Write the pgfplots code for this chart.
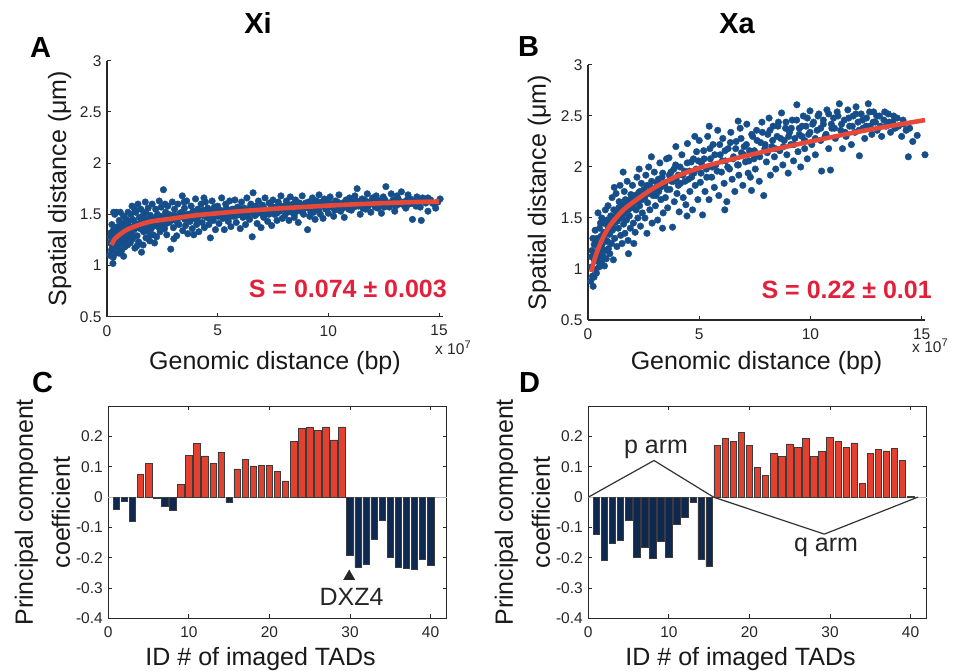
\documentclass[border=0pt]{standalone}
\usepackage{fontspec}
\setmainfont{Liberation Sans}
\usepackage{pgfplots}
\pgfplotsset{compat=1.18}

\definecolor{dotblue}{RGB}{22,78,138}
\definecolor{fitred}{RGB}{232,72,56}
\definecolor{txtred}{RGB}{226,32,58}
\definecolor{barred}{RGB}{228,64,48}
\definecolor{barnavy}{RGB}{14,40,80}
\definecolor{edge}{RGB}{60,60,60}
\definecolor{axgray}{RGB}{40,40,40}

\newcommand\lbl{\fontsize{25}{30}\selectfont}
\newcommand\tck{\fontsize{15.5}{18}\selectfont}
\newcommand\ttl{\fontsize{29}{32}\selectfont\bfseries}

\pgfplotsset{
  panel/.style={
    scale only axis, clip=false, clip mode=individual, clip marker paths=true,
    tick align=inside, major tick length=4pt,
    axis line style={axgray, line width=1.3pt},
    tick style={axgray, line width=1pt},
    /pgf/number format/assume math mode=true,
    tick label style={font=\tck, text=black!85},
    xticklabel style={yshift=-5pt},
    yticklabel style={xshift=-2pt},
    label style={font=\lbl, inner sep=0pt, text=black!90},
  },
  scat/.style={
    panel,
    axis x line*=bottom, axis y line*=left,
    xmin=0, xmax=15.18, ymin=0.5, ymax=3,
    xtick={0,5,10,15}, ytick={0.5,1,1.5,2,2.5,3},
    xlabel={Genomic distance (bp)},
    ylabel={Spatial distance (μm)},
  },
  bars/.style={
    panel,
    xmin=0, xmax=42, ymin=-0.4, ymax=0.3,
    width=338.4pt, height=212pt,
    xtick={0,10,20,30,40},
    ytick={-0.4,-0.3,-0.2,-0.1,0,0.1,0.2},
    yticklabels={-0.4,-0.3,-0.2,-0.1,0,0.1,0.2},
    xlabel={ID \# of imaged TADs},
    ylabel={Principal component\\coefficient},
    xlabel style={at={(axis description cs:0.45,-0.222)}, anchor=base},
    ylabel style={at={(axis description cs:-0.112,0.5)}, anchor=south,
      align=center, font=\fontsize{25}{37}\selectfont},
  },
  dots/.style={dotblue, only marks, mark=*, mark size=3.3pt},
  fit/.style={fitred, line width=4.6pt, smooth, no marks},
  posbar/.style={ybar, bar width=0.8, bar shift=0pt, fill=barred, draw=edge, line width=0.6pt},
  negbar/.style={ybar, bar width=0.8, bar shift=0pt, fill=barnavy, draw=edge, line width=0.6pt},
}

\begin{document}
\begin{tikzpicture}
\useasboundingbox (0,0) rectangle (961pt,670pt);

% ---------------- A : Xi ----------------
\begin{axis}[scat, at={(107pt,353.3pt)}, anchor=south west,
  width=336pt, height=256pt,
  xlabel style={at={(axis description cs:0.5,-0.208)}, anchor=base},
  ylabel style={at={(axis description cs:-0.122,0.5)}, anchor=base}]
\addplot[dots] coordinates {
(0.12,1.10)(0.15,1.22)(0.18,1.32)(0.20,1.15)(0.22,1.40)(0.25,1.26)(0.27,1.02)(0.28,1.08)(0.30,1.35)(0.32,1.19)
(0.35,1.50)(0.38,1.29)(0.40,1.12)(0.42,1.52)(0.45,1.24)(0.48,1.38)(0.50,1.17)(0.52,1.31)(0.55,1.44)(0.58,1.21)
(0.60,1.52)(0.62,1.34)(0.65,1.14)(0.68,1.27)(0.70,1.41)(0.72,1.23)(0.75,1.48)(0.78,1.30)(0.80,1.18)(0.82,1.37)
(0.85,1.26)(0.88,1.45)(0.90,1.33)(0.92,1.20)(0.95,1.52)(0.98,1.29)(0.15,1.28)(0.25,1.18)(0.35,1.23)(0.45,1.33)
(0.55,1.12)(0.65,1.38)(0.75,1.09)(0.85,1.35)(0.95,1.42)(0.30,1.52)(0.60,1.25)(0.90,1.24)
(0.22,1.22)(0.33,1.28)(0.44,1.26)(0.57,1.30)(0.68,1.33)(0.79,1.31)(0.93,1.36)(1.07,1.34)(1.18,1.38)(1.29,1.41)
(1.42,1.37)(1.52,1.42)(1.64,1.39)(1.77,1.43)(1.88,1.40)(2.02,1.44)(2.14,1.42)(2.26,1.46)(2.38,1.44)(2.47,1.47)
(1.02,1.38)(1.05,1.22)(1.08,1.50)(1.10,1.31)(1.13,1.58)(1.16,1.26)(1.20,1.44)(1.23,1.35)(1.26,1.17)(1.30,1.52)
(1.33,1.40)(1.36,1.29)(1.40,1.60)(1.43,1.23)(1.46,1.47)(1.50,1.36)(1.53,1.55)(1.56,1.13)(1.60,1.42)(1.63,1.20)
(1.66,1.50)(1.70,1.38)(1.73,1.62)(1.76,1.27)(1.80,1.45)(1.83,1.34)(1.86,1.56)(1.90,1.41)(1.93,1.24)(1.96,1.49)
(2.00,1.36)(2.04,1.60)(2.08,1.30)(2.12,1.46)(2.16,1.39)(2.20,1.55)(2.24,1.28)(2.28,1.50)(2.32,1.42)(2.36,1.63)
(2.40,1.33)(2.44,1.48)(2.48,1.40)(1.15,1.45)(1.35,1.19)(1.55,1.47)(1.75,1.52)(1.95,1.30)(2.15,1.22)(2.35,1.37)
(1.25,1.55)(1.65,1.33)(2.05,1.44)(2.45,1.57)
(2.52,1.44)(2.55,1.74)(2.60,1.36)(2.65,1.52)(2.70,1.30)(2.75,1.58)(2.80,1.42)(2.88,1.16)(2.90,1.49)(2.95,1.62)
(3.00,1.37)(3.05,1.55)(3.10,1.45)(3.15,1.29)(3.20,1.60)(3.25,1.40)(3.30,1.51)(3.40,1.68)(3.42,1.34)(3.45,1.47)
(3.50,1.56)(3.55,1.39)(3.60,1.63)(3.65,1.31)(3.70,1.50)(3.75,1.43)(3.80,1.58)(3.85,1.36)(3.90,1.53)(3.95,1.46)
(4.00,1.65)(4.05,1.40)(4.10,1.55)(4.15,1.33)(4.20,1.49)(4.25,1.60)(4.30,1.42)(4.35,1.54)(4.40,1.37)(4.45,1.62)
(4.50,1.47)(4.55,1.56)(4.60,1.40)(4.67,1.27)(4.70,1.51)(4.75,1.63)(4.80,1.44)(4.85,1.57)(4.90,1.35)(4.95,1.52)
(2.62,1.60)(3.02,1.26)(3.48,1.62)(3.92,1.30)(4.38,1.66)(4.88,1.48)
(2.58,1.47)(2.68,1.41)(2.78,1.50)(2.92,1.44)(3.06,1.49)(3.18,1.42)(3.28,1.47)(3.38,1.52)(3.52,1.45)(3.62,1.50)
(3.72,1.46)(3.86,1.52)(3.98,1.48)(4.08,1.44)(4.18,1.53)(4.32,1.49)(4.48,1.52)(4.62,1.46)(4.78,1.54)(4.92,1.49)
(5.00,1.58)(5.06,1.41)(5.12,1.54)(5.18,1.66)(5.24,1.46)(5.30,1.35)(5.36,1.60)(5.42,1.50)(5.48,1.43)(5.54,1.63)
(5.60,1.38)(5.66,1.55)(5.72,1.48)(5.78,1.64)(5.84,1.42)(5.90,1.57)(5.96,1.51)(6.02,1.36)(6.08,1.62)(6.14,1.47)
(6.20,1.56)(6.26,1.40)(6.32,1.66)(6.38,1.52)(6.44,1.45)(6.50,1.60)(6.56,1.28)(6.60,1.71)(6.66,1.49)(6.72,1.58)
(6.78,1.41)(6.84,1.63)(6.90,1.53)(6.96,1.37)(7.02,1.59)(7.08,1.47)(7.14,1.66)(7.20,1.51)(7.26,1.43)(7.32,1.61)
(7.38,1.55)(7.44,1.39)(7.50,1.64)(7.56,1.50)(7.62,1.57)(7.68,1.44)(7.74,1.62)(7.80,1.53)(7.86,1.68)(7.92,1.46)
(7.98,1.58)
(5.03,1.48)(5.15,1.53)(5.27,1.50)(5.39,1.56)(5.51,1.47)(5.63,1.52)(5.75,1.55)(5.87,1.49)(5.99,1.56)(6.11,1.51)
(6.23,1.54)(6.35,1.48)(6.47,1.57)(6.59,1.52)(6.71,1.49)(6.83,1.55)(6.95,1.51)(7.07,1.57)(7.19,1.53)(7.31,1.50)
(7.43,1.58)(7.55,1.54)(7.67,1.51)(7.79,1.58)(7.91,1.55)
(8.04,1.49)(8.10,1.63)(8.16,1.55)(8.22,1.44)(8.28,1.67)(8.34,1.52)(8.40,1.60)(8.46,1.47)(8.52,1.64)(8.58,1.56)
(8.64,1.42)(8.70,1.61)(8.76,1.53)(8.82,1.68)(8.88,1.50)(8.94,1.58)(9.06,1.35)(9.10,1.62)(9.16,1.48)(9.22,1.56)
(9.28,1.66)(9.34,1.52)(9.40,1.45)(9.46,1.63)(9.52,1.57)(9.58,1.69)(9.64,1.50)(9.70,1.60)(9.76,1.46)(9.82,1.65)
(9.88,1.55)(9.94,1.62)(10.00,1.51)(10.08,1.67)(10.16,1.58)(10.24,1.48)(10.32,1.63)(10.40,1.55)(10.48,1.69)(10.56,1.53)
(10.64,1.61)(10.72,1.47)(10.80,1.64)(10.88,1.57)(10.96,1.66)
(8.01,1.57)(8.13,1.52)(8.25,1.59)(8.37,1.55)(8.49,1.51)(8.61,1.60)(8.73,1.57)(8.85,1.54)(8.97,1.61)(9.09,1.56)
(9.21,1.52)(9.33,1.60)(9.45,1.57)(9.57,1.54)(9.69,1.62)(9.81,1.58)(9.93,1.55)(10.05,1.61)(10.17,1.57)(10.29,1.54)
(10.41,1.62)(10.53,1.59)(10.65,1.56)(10.77,1.60)(10.92,1.55)
(11.04,1.54)(11.12,1.62)(11.20,1.68)(11.30,1.75)(11.36,1.58)(11.44,1.50)(11.52,1.65)(11.60,1.60)(11.68,1.55)(11.76,1.70)
(11.84,1.62)(11.92,1.52)(12.00,1.66)(12.08,1.59)(12.16,1.68)(12.24,1.56)(12.32,1.63)(12.40,1.51)(12.48,1.67)(12.60,1.77)
(12.68,1.61)(12.76,1.57)(12.84,1.70)(12.92,1.64)(13.00,1.53)(13.10,1.68)(13.20,1.60)(13.30,1.72)(13.40,1.62)(13.50,1.56)
(13.60,1.69)(13.70,1.65)(13.80,1.45)(13.90,1.60)(14.00,1.67)(14.20,1.44)(14.30,1.63)(14.50,1.53)(14.50,1.66)(14.70,1.61)
(14.85,1.56)(15.05,1.65)
(11.02,1.61)(11.16,1.57)(11.28,1.63)(11.40,1.59)(11.56,1.56)(11.64,1.64)(11.80,1.58)(11.96,1.62)(12.12,1.57)(12.20,1.64)
(12.36,1.60)(12.52,1.57)(12.56,1.64)(12.72,1.60)(12.88,1.62)(13.04,1.58)(13.16,1.65)(13.26,1.61)(13.44,1.58)(13.56,1.64)
(13.66,1.60)(13.84,1.63)(13.96,1.58)(14.10,1.62)(14.26,1.66)(14.40,1.61)(14.62,1.64)(14.78,1.60)(14.95,1.62)(14.15,1.57)
};
\addplot[fit] coordinates {
(0.2,1.20)(0.35,1.26)(0.5,1.29)(0.75,1.33)(1,1.36)(1.5,1.40)(2,1.43)(3,1.46)(4,1.49)(5,1.51)
(6,1.53)(8,1.56)(10,1.585)(12,1.605)(14,1.62)(15,1.625)
};
\node[anchor=base east, inner sep=0pt, font=\lbl\bfseries, text=txtred] at (axis cs:15.36,0.683) {S = 0.074 ± 0.003};
\end{axis}

% ---------------- B : Xa ----------------
\begin{axis}[scat, at={(588pt,350pt)}, anchor=south west,
  width=337pt, height=255pt, xmax=15.15,
  xlabel style={at={(axis description cs:0.5,-0.196)}, anchor=base},
  ylabel style={at={(axis description cs:-0.125,0.5)}, anchor=base}]
\addplot[dots] coordinates {
(0.12,0.88)(0.15,1.02)(0.18,1.18)(0.20,0.93)(0.22,1.30)(0.23,0.83)(0.26,1.10)(0.28,1.24)(0.30,0.99)(0.32,1.38)
(0.35,1.15)(0.38,0.96)(0.40,1.30)(0.42,1.08)(0.45,1.55)(0.48,1.21)(0.50,1.02)(0.52,1.40)(0.55,1.16)(0.58,1.32)
(0.60,1.07)(0.62,1.50)(0.65,1.25)(0.68,1.12)(0.70,1.45)(0.72,1.30)(0.75,1.18)(0.78,1.58)(0.80,1.36)(0.82,1.10)
(0.85,1.48)(0.88,1.27)(0.90,1.62)(0.92,1.20)(0.95,1.40)(0.98,1.15)(0.16,1.12)(0.34,1.28)(0.56,1.45)(0.74,1.03)
(0.86,1.35)(0.27,0.92)
(0.25,1.00)(0.36,1.08)(0.46,1.18)(0.54,1.24)(0.63,1.20)(0.71,1.36)(0.81,1.28)(0.89,1.42)(0.97,1.34)(1.06,1.46)
(1.15,1.40)(1.24,1.52)(1.32,1.47)(1.42,1.55)(1.51,1.62)(1.61,1.54)(1.71,1.64)(1.81,1.58)(1.91,1.68)(2.01,1.62)
(2.11,1.72)(2.22,1.66)(2.33,1.76)(2.43,1.68)(0.42,1.12)
(1.02,1.52)(1.05,1.25)(1.08,1.70)(1.10,1.38)(1.14,1.09)(1.16,1.58)(1.20,1.30)(1.23,1.46)(1.26,1.74)(1.30,1.22)
(1.33,1.55)(1.36,1.40)(1.40,1.66)(1.44,1.82)(1.47,1.33)(1.50,1.50)(1.53,1.25)(1.56,1.62)(1.60,1.44)(1.63,1.76)
(1.66,1.35)(1.70,1.57)(1.73,1.48)(1.76,1.86)(1.80,1.28)(1.83,1.65)(1.86,1.52)(1.90,1.40)(1.93,1.73)(1.96,1.60)
(2.00,1.82)(2.04,1.45)(2.08,1.66)(2.12,1.36)(2.16,1.58)(2.20,1.90)(2.24,1.50)(2.28,1.75)(2.32,1.62)(2.36,1.42)
(2.40,1.84)(2.44,1.55)(2.48,1.70)(1.82,1.15)(1.18,1.80)(1.58,1.95)(2.06,1.25)(2.30,1.98)(1.38,1.60)(1.68,1.68)
(2.52,1.78)(2.56,1.50)(2.60,1.92)(2.65,1.35)(2.68,1.65)(2.73,2.00)(2.78,1.58)(2.83,1.80)(2.88,1.45)(2.93,1.72)
(2.98,1.95)(3.03,1.62)(3.08,1.85)(3.13,1.48)(3.18,1.76)(3.23,2.04)(3.28,1.68)(3.33,1.90)(3.38,1.55)(3.43,1.82)
(3.48,1.70)(3.53,2.08)(3.58,1.60)(3.64,2.09)(3.68,1.78)(3.73,1.95)(3.80,1.41)(3.84,1.86)(3.88,1.66)(3.94,2.02)
(4.00,1.74)(4.05,1.92)(4.10,1.56)(4.16,1.84)(4.22,2.12)(4.28,1.70)(4.34,1.96)(4.40,1.63)(4.47,2.23)(4.52,1.88)
(4.58,1.76)(4.64,2.05)(4.70,1.58)(4.76,1.94)(4.82,1.82)(4.88,2.15)(4.94,1.68)(2.85,2.10)(3.35,1.40)(3.95,2.20)
(4.45,1.52)(4.80,2.30)
(2.55,1.70)(2.66,1.82)(2.76,1.74)(2.86,1.86)(2.96,1.78)(3.06,1.72)(3.16,1.88)(3.26,1.80)(3.36,1.94)(3.46,1.84)
(3.56,1.78)(3.66,1.92)(3.76,1.86)(3.86,1.98)(3.96,1.88)(4.06,1.82)(4.14,2.00)(4.26,1.92)(4.36,1.86)(4.46,2.04)
(4.56,1.96)(4.66,1.90)(4.74,2.08)(4.86,1.98)(4.96,2.06)
(5.00,2.26)(5.05,1.85)(5.10,2.04)(5.15,1.53)(5.20,2.16)(5.26,1.76)(5.32,1.98)(5.38,2.30)(5.44,1.68)(5.50,2.08)
(5.56,1.90)(5.62,2.22)(5.68,1.80)(5.74,2.02)(5.83,2.36)(5.88,1.72)(5.94,2.12)(6.00,1.95)(6.06,2.28)(6.12,1.84)
(6.18,2.06)(6.24,1.66)(6.30,2.18)(6.36,1.98)(6.42,2.34)(6.48,1.88)(6.54,2.10)(6.60,1.76)(6.66,2.25)(6.72,2.02)
(6.78,1.92)(6.84,2.38)(6.90,2.14)(6.96,1.82)(7.02,2.20)(7.08,2.05)(7.14,2.42)(7.20,1.94)(7.26,2.16)(7.35,1.77)
(7.40,2.30)(7.46,2.08)(7.52,1.98)(7.58,2.36)(7.64,2.12)(7.70,1.86)(7.76,2.24)(7.82,2.44)(7.90,1.72)(7.95,2.18)
(5.45,2.40)(6.15,1.58)(6.75,2.45)(7.30,1.90)
(5.08,1.94)(5.22,2.08)(5.34,1.90)(5.48,2.18)(5.58,2.00)(5.70,2.12)(5.80,1.96)(5.92,2.22)(6.04,2.06)(6.16,2.16)
(6.28,2.00)(6.40,2.24)(6.52,2.08)(6.64,2.18)(6.76,2.02)(6.88,2.28)(7.00,2.12)(7.12,2.22)(7.24,2.06)(7.36,2.32)
(7.48,2.16)(7.60,2.26)(7.72,2.10)(7.84,2.34)(7.96,2.22)
(8.02,2.05)(8.08,2.32)(8.14,2.48)(8.20,1.92)(8.26,2.20)(8.32,2.40)(8.38,2.10)(8.44,1.98)(8.50,2.30)(8.56,2.44)
(8.62,2.16)(8.70,2.53)(8.76,2.02)(8.82,2.26)(8.88,2.38)(8.94,2.12)(9.00,1.94)(9.06,2.34)(9.12,2.22)(9.18,2.46)
(9.24,2.06)(9.30,2.28)(9.39,2.61)(9.44,2.15)(9.50,2.38)(9.56,2.00)(9.62,2.30)(9.68,2.50)(9.74,2.18)(9.80,2.40)
(9.86,2.08)(9.92,2.32)(9.98,2.55)(10.06,2.22)(10.14,2.44)(10.22,2.12)(10.30,2.36)(10.38,2.52)(10.46,2.26)(10.50,1.96)
(10.58,2.42)(10.66,2.30)(10.74,2.56)(10.82,2.18)(10.90,1.97)(10.96,2.38)
(8.06,2.14)(8.18,2.36)(8.30,2.26)(8.42,2.18)(8.54,2.40)(8.66,2.28)(8.78,2.20)(8.90,2.44)(9.02,2.30)(9.14,2.38)
(9.26,2.22)(9.38,2.46)(9.50,2.32)(9.62,2.40)(9.74,2.26)(9.86,2.48)(9.98,2.34)(10.10,2.42)(10.22,2.28)(10.34,2.50)
(10.46,2.38)(10.58,2.46)(10.70,2.32)(10.82,2.52)(10.94,2.42)
(11.04,2.48)(11.12,2.28)(11.20,2.54)(11.30,2.62)(11.36,2.36)(11.44,2.18)(11.52,2.46)(11.60,2.30)(11.68,2.56)(11.76,2.40)
(11.84,2.22)(11.92,2.50)(12.00,2.34)(12.05,2.59)(12.14,2.44)(12.20,2.11)(12.28,2.52)(12.36,2.38)(12.44,2.28)(12.52,2.48)
(12.60,2.62)(12.68,2.40)(12.76,2.32)(12.84,2.54)(12.92,2.44)(13.00,2.36)(13.10,2.50)(13.20,2.30)(13.30,2.46)(13.40,2.40)
(13.50,2.52)(13.60,2.34)(13.70,2.44)(13.80,2.38)(13.90,2.48)(14.10,2.30)(14.20,2.42)(14.40,2.10)(14.60,2.25)(14.80,2.31)
(14.30,2.36)(15.15,2.12)
(11.08,2.38)(11.24,2.50)(11.40,2.42)(11.56,2.34)(11.72,2.48)(11.88,2.40)(12.04,2.52)(12.18,2.36)(12.34,2.46)(12.50,2.40)
(12.66,2.54)(12.82,2.44)(12.98,2.50)(13.14,2.40)(13.34,2.54)(13.54,2.44)(13.74,2.50)(13.96,2.40)(14.16,2.46)(14.46,2.38)
};
\addplot[fit] coordinates {
(0.15,0.97)(0.3,1.10)(0.5,1.22)(0.75,1.34)(1,1.43)(1.5,1.56)(2,1.65)(3,1.80)(4,1.91)(5,1.99)
(6,2.05)(7.5,2.13)(10,2.25)(12.5,2.36)(15.15,2.46)
};
\node[anchor=base east, inner sep=0pt, font=\lbl\bfseries, text=txtred] at (axis cs:15.46,0.706) {S = 0.22 ± 0.01};
\end{axis}

% ---------------- C ----------------
\begin{axis}[bars, at={(108.3pt,51.7pt)}, anchor=south west]
\addplot[gray!55, line width=1pt] coordinates {(0,0)(42,0)};
\addplot[posbar] coordinates {
(4,0.076)(5,0.111)(9,0.041)(10,0.137)(11,0.177)(12,0.136)(13,0.111)(14,0.149)
(16,0.093)(17,0.124)(18,0.103)(19,0.105)(20,0.106)(21,0.085)(22,0.054)(23,0.183)
(24,0.227)(25,0.230)(26,0.221)(27,0.232)(28,0.189)(29,0.232)
};
\addplot[negbar] coordinates {
(1,-0.039)(2,-0.014)(3,-0.080)(6,-0.004)(7,-0.030)(8,-0.042)(15,-0.016)
(30,-0.192)(31,-0.232)(32,-0.221)(33,-0.139)(34,-0.077)(35,-0.200)(36,-0.232)
(37,-0.235)(38,-0.239)(39,-0.205)(40,-0.225)
};
\addplot[only marks, mark=triangle*, mark size=6.5pt, black!85] coordinates {(29.9,-0.262)};
\node[anchor=base, inner sep=0pt, font=\lbl, text=black!85] at (axis cs:30.2,-0.359) {DXZ4};
\end{axis}

% ---------------- D ----------------
\begin{axis}[bars, at={(588.3pt,51.7pt)}, anchor=south west]
\addplot[gray!55, line width=1pt] coordinates {(0,0)(42,0)};
\addplot[posbar] coordinates {
(16,0.170)(17,0.193)(18,0.185)(19,0.213)(20,0.170)(21,0.097)(22,0.073)(23,0.145)
(24,0.135)(25,0.176)(26,0.164)(27,0.195)(28,0.135)(29,0.152)(30,0.196)(31,0.183)
(32,0.163)(33,0.179)(34,0.045)(35,0.145)(36,0.157)(37,0.153)(38,0.160)(39,0.121)(40,0.003)
};
\addplot[negbar] coordinates {
(1,-0.123)(2,-0.210)(3,-0.151)(4,-0.143)(5,-0.075)(6,-0.200)(7,-0.167)(8,-0.203)
(9,-0.147)(10,-0.197)(11,-0.088)(12,-0.068)(13,-0.016)(14,-0.205)(15,-0.227)
};
\addplot[black!80, line width=1.2pt] coordinates {(0,0)(8.15,0.121)(15.55,0)};
\addplot[black!80, line width=1.2pt] coordinates {(15.55,0)(29.3,-0.122)(40.9,0)};
\node[anchor=base, inner sep=0pt, font=\lbl, text=black!85] at (axis cs:8.4,0.144) {p arm};
\node[anchor=base, inner sep=0pt, font=\lbl, text=black!85] at (axis cs:29.5,-0.178) {q arm};
\end{axis}

% ---------------- titles, panel letters, exponents ----------------
\node[anchor=base, inner sep=0pt, font=\ttl] at (258pt,636pt) {Xi};
\node[anchor=base, inner sep=0pt, font=\ttl] at (737pt,636pt) {Xa};
\node[anchor=base west, inner sep=0pt, font=\ttl] at (30pt,612pt) {A};
\node[anchor=base west, inner sep=0pt, font=\ttl] at (518pt,613pt) {B};
\node[anchor=base west, inner sep=0pt, font=\ttl] at (32pt,277pt) {C};
\node[anchor=base west, inner sep=0pt, font=\ttl] at (519pt,277pt) {D};
\node[anchor=base west, inner sep=0pt, font=\tck, text=black!85] at (435pt,315pt) {x 10\raisebox{6pt}{\fontsize{11}{11}\selectfont 7}};
\node[anchor=base west, inner sep=0pt, font=\tck, text=black!85] at (912pt,317pt) {x 10\raisebox{6pt}{\fontsize{11}{11}\selectfont 7}};
\end{tikzpicture}
\end{document}
